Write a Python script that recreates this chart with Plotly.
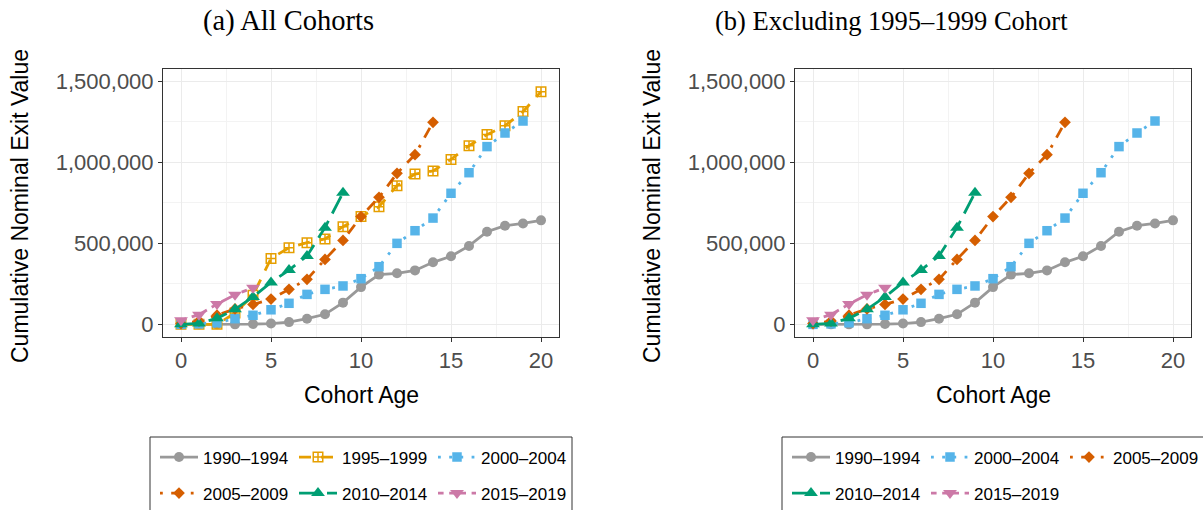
import plotly.graph_objects as go

# ---------------- data ----------------
ages_1990 = list(range(0, 21))
vals_1990 = [0, 0, 0, 0, 2000, 5000, 14000, 35000, 62000, 134000, 230000,
             307000, 315000, 333000, 383000, 420000, 484000, 572000, 609000, 623000, 642000]
ages_1995 = list(range(0, 21))
vals_1995 = [0, 0, 0, 70000, 180000, 407000, 473000, 504000, 527000, 603000, 665000,
             726000, 856000, 928000, 947000, 1018000, 1103000, 1171000, 1226000, 1313000, 1436000]
ages_2000 = list(range(0, 20))
vals_2000 = [0, 3000, 10000, 35000, 56000, 90000, 130000, 185000, 216000, 237000, 282000,
             356000, 500000, 578000, 656000, 809000, 936000, 1097000, 1181000, 1255000]
ages_2005 = list(range(0, 15))
vals_2005 = [5000, 20000, 57000, 95000, 123000, 156000, 216000, 278000, 401000, 518000,
             665000, 784000, 932000, 1047000, 1247000]
ages_2010 = list(range(0, 10))
vals_2010 = [0, 6000, 37000, 93000, 169000, 259000, 335000, 422000, 597000, 813000]
ages_2015 = list(range(0, 5))
vals_2015 = [25000, 60000, 125000, 183000, 226000]

cohort_labels = ["1990\u20131994", "1995\u20131999", "2000\u20132004",
                 "2005\u20132009", "2010\u20132014", "2015\u20132019"]
x_ticks = [0, 5, 10, 15, 20]
y_ticks = [0, 500000, 1000000, 1500000]
panel_titles = ["(a) All Cohorts", "(b) Excluding 1995\u20131999 Cohort"]
x_title = "Cohort Age"
y_title = "Cumulative Nominal Exit Value"

series = {
    "1990\u20131994": (ages_1990, vals_1990),
    "1995\u20131999": (ages_1995, vals_1995),
    "2000\u20132004": (ages_2000, vals_2000),
    "2005\u20132009": (ages_2005, vals_2005),
    "2010\u20132014": (ages_2010, vals_2010),
    "2015\u20132019": (ages_2015, vals_2015),
}

# ---------------- styles ----------------
W, H = 1203, 510
LW = 2.8
styles = {
    "1990\u20131994": dict(color="#999999", dash="solid", symbol="circle", size=10),
    "1995\u20131999": dict(color="#E69F00", dash="12px,10px", symbol="square-cross-open", size=9.5),
    "2000\u20132004": dict(color="#56B4E9", dash="2.8px,8.4px", symbol="square", size=9.5),
    "2005\u20132009": dict(color="#D55E00", dash="2.8px,8.4px,11.2px,8.4px", symbol="diamond", size=9),
    "2010\u20132014": dict(color="#009E73", dash="19.6px,8.4px", symbol="triangle-up", size=12),
    "2015\u20132019": dict(color="#CC79A7", dash="5.6px,5.6px,16.8px,5.6px", symbol="triangle-down", size=12),
}

def px_x(p):
    return p / W

def px_y(p):
    return 1 - p / H

fig = go.Figure()

left_legends = {cohort_labels[0]: "legend", cohort_labels[1]: "legend", cohort_labels[2]: "legend",
                cohort_labels[3]: "legend2", cohort_labels[4]: "legend2", cohort_labels[5]: "legend2"}
right_legends = {cohort_labels[0]: "legend3", cohort_labels[2]: "legend3", cohort_labels[3]: "legend3",
                 cohort_labels[4]: "legend4", cohort_labels[5]: "legend4"}

for panel, (xa, ya, legmap) in enumerate([("x", "y", left_legends), ("x2", "y2", right_legends)]):
    for name in cohort_labels:
        if name not in legmap:
            continue
        xs, ys = series[name]
        st = styles[name]
        marker = dict(color=st["color"], symbol=st["symbol"], size=st["size"])
        if st["symbol"].endswith("open"):
            marker["line"] = dict(color=st["color"], width=1.5)
        else:
            marker["line"] = dict(width=0)
        fig.add_trace(go.Scatter(
            x=xs, y=ys, name=name, mode="lines+markers",
            line=dict(color=st["color"], width=LW, dash=st["dash"]),
            marker=marker, xaxis=xa, yaxis=ya, legend=legmap[name],
        ))

axis_common = dict(
    range=[-1, 21], tickvals=x_ticks, ticks="outside", ticklen=4, tickwidth=1,
    tickcolor="#333333", showline=True, linecolor="#333333", linewidth=1, mirror=True,
    showgrid=True, gridcolor="#EBEBEB", gridwidth=1.1, zeroline=False,
    tickfont=dict(family="Liberation Sans, Arial, sans-serif", size=22, color="#4D4D4D"),
    minor=dict(dtick=2.5, tick0=0, showgrid=True, gridcolor="#F3F3F3", gridwidth=0.6, ticks=""),
)
yaxis_common = dict(
    range=[-78000, 1576000], tickvals=y_ticks, tickformat=",d", ticks="outside", ticklen=4,
    tickwidth=1, tickcolor="#333333", showline=True, linecolor="#333333", linewidth=1,
    mirror=True, showgrid=True, gridcolor="#EBEBEB", gridwidth=1.1, zeroline=False,
    tickfont=dict(family="Liberation Sans, Arial, sans-serif", size=22, color="#4D4D4D"),
    minor=dict(dtick=250000, tick0=0, showgrid=True, gridcolor="#F3F3F3", gridwidth=0.6, ticks=""),
)

plot_top, plot_bot = 69, 337
left_x0, left_x1 = 163, 559
right_x0, right_x1 = 795, 1191

leg_font = dict(family="Liberation Sans, Arial, sans-serif", size=17, color="#000000")
leg_common = dict(orientation="h", xanchor="left", yanchor="top", font=leg_font,
                  bgcolor="rgba(0,0,0,0)", borderwidth=0, itemwidth=38, entrywidth=86,
                  entrywidthmode="pixels", tracegroupgap=0, itemclick=False)

fig.update_layout(
    width=W, height=H, margin=dict(l=0, r=0, t=0, b=0, autoexpand=False),
    paper_bgcolor="white", plot_bgcolor="white",
    xaxis=dict(domain=[px_x(left_x0), px_x(left_x1)], anchor="y", **axis_common),
    yaxis=dict(domain=[px_y(plot_bot), px_y(plot_top)], anchor="x", **yaxis_common),
    xaxis2=dict(domain=[px_x(right_x0), px_x(right_x1)], anchor="y2", **axis_common),
    yaxis2=dict(domain=[px_y(plot_bot), px_y(plot_top)], anchor="x2", **yaxis_common),
    legend=dict(x=px_x(155), y=px_y(439.5), **leg_common),
    legend2=dict(x=px_x(155), y=px_y(475.5), **leg_common),
    legend3=dict(x=px_x(787), y=px_y(439.5), **leg_common),
    legend4=dict(x=px_x(787), y=px_y(475.5), **leg_common),
    showlegend=True,
)

# legend frames
fig.add_shape(type="rect", xref="paper", yref="paper", x0=px_x(150), x1=px_x(572),
              y0=px_y(530), y1=px_y(437), line=dict(color="#333333", width=1), fillcolor="rgba(0,0,0,0)")
fig.add_shape(type="rect", xref="paper", yref="paper", x0=px_x(782), x1=px_x(1215),
              y0=px_y(530), y1=px_y(437), line=dict(color="#333333", width=1), fillcolor="rgba(0,0,0,0)")

ann_font = dict(family="Liberation Sans, Arial, sans-serif", size=23, color="#000000")
title_font_a = dict(family="Liberation Serif, Times New Roman, serif", size=28.5, color="#000000")
title_font_b = dict(family="Liberation Serif, Times New Roman, serif", size=26.5, color="#000000")

annotations = [
    dict(text=panel_titles[0], x=px_x(288), y=px_y(21), font=title_font_a),
    dict(text=panel_titles[1], x=px_x(891), y=px_y(21), font=title_font_b),
    dict(text=x_title, x=px_x((left_x0 + left_x1) / 2), y=px_y(395), font=ann_font),
    dict(text=x_title, x=px_x((right_x0 + right_x1) / 2), y=px_y(395), font=ann_font),
    dict(text=y_title, x=px_x(20), y=px_y(206), font=ann_font, textangle=-90),
    dict(text=y_title, x=px_x(652), y=px_y(206), font=ann_font, textangle=-90),
]
for a in annotations:
    fig.add_annotation(xref="paper", yref="paper", xanchor="center", yanchor="middle",
                       showarrow=False, **a)

fig.write_html("out.html")
